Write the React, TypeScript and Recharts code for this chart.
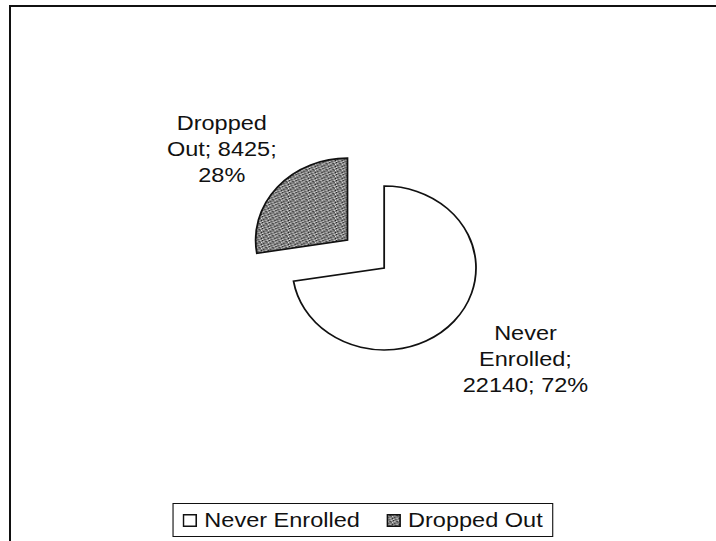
import { PieChart, Pie, Cell, Legend } from "recharts";

// values
const categories = ["Never Enrolled", "Dropped Out"];
const counts = [22140, 8425];
const sliceFills = ["#ffffff", "url(#stipple)"];

const data = categories.map((name, i) => ({ name, value: counts[i] }));

// the original scan is stretched horizontally
const STRETCH = 1.12;
const CHART_W = Math.round(716 / STRETCH);
const CHART_H = 541;
const CX = 343;
const CY = 268;
const R = 82;
const EXPLODE = 43;
const LABEL_DX = 7;
const FONT = "'Liberation Sans', Arial, sans-serif";
const RAD = Math.PI / 180;

const total = counts.reduce((a, b) => a + b, 0);
const dropStart = 90 - (360 * counts[0]) / total;
const dropMid = dropStart - (180 * counts[1]) / total;
const CX2 = CX + EXPLODE * Math.cos(dropMid * RAD);
const CY2 = CY - EXPLODE * Math.sin(dropMid * RAD);

function wrap(text: string, max: number) {
  const lines: string[] = [];
  let cur = "";
  for (const w of text.split(" ")) {
    const next = cur ? cur + " " + w : w;
    if (cur && next.length > max) {
      lines.push(cur);
      cur = w;
    } else cur = next;
  }
  if (cur) lines.push(cur);
  return lines;
}

const makeLabel = (showIndex: number) => (p: any) => {
  if (p.index !== showIndex) return null;
  const r = p.outerRadius + 68;
  const a = (p.midAngle + 3) * RAD;
  const x = p.cx + r * Math.cos(a) + LABEL_DX;
  const y = p.cy - r * Math.sin(a);
  const lines = wrap(`${p.name}; ${p.value}; ${Math.round(p.percent * 100)}%`, 10);
  return (
    <text x={x} y={y} textAnchor="middle" fontSize={21} fontFamily={FONT} fill="#111">
      {lines.map((l, i) => (
        <tspan key={i} x={x} y={y + (i - (lines.length - 1) / 2) * 26 + 7}>
          {l}
        </tspan>
      ))}
    </text>
  );
};

const renderLegend = (props: any) => {
  const names = (props.payload || []).map((it: any) => it.value);
  const items = categories.filter((c) => names.includes(c));
  return (
    <div
      style={{
        border: "1.5px solid #111",
        height: 34,
        display: "flex",
        alignItems: "center",
        justifyContent: "center",
        gap: 24,
        fontFamily: FONT,
        fontSize: 21,
        color: "#111",
        boxSizing: "border-box",
        background: "#fff",
        whiteSpace: "nowrap",
      }}
    >
      {items.map((name) => {
        const idx = categories.indexOf(name);
        return (
          <span key={name} style={{ display: "flex", alignItems: "center", gap: 6 }}>
            <svg width={13} height={13}>
              <rect x={0.75} y={0.75} width={11.5} height={11.5} fill={sliceFills[idx]} stroke="#111" strokeWidth={1.5} />
            </svg>
            {name}
          </span>
        );
      })}
    </div>
  );
};

export default function App() {
  return (
    <div style={{ position: "absolute", left: 0, top: 0, width: 716, height: 541, overflow: "hidden", background: "#fff" }}>
      <div style={{ position: "absolute", left: 9, top: 5, width: 760, height: 600, border: "2px solid #111" }} />
      <div style={{ position: "absolute", left: 0, top: 0, transform: `scaleX(${STRETCH})`, transformOrigin: "0 0" }}>
        <PieChart width={CHART_W} height={CHART_H} margin={{ top: 0, right: 0, bottom: 0, left: 0 }}>
          <defs>
            <pattern id="stipple" width={6} height={6} patternUnits="userSpaceOnUse">
              <rect width={6} height={6} fill="#858585" />
              <rect x={0} y={0} width={1} height={1} fill="#222" />
              <rect x={3} y={1} width={1} height={1} fill="#222" />
              <rect x={1} y={3} width={1} height={1} fill="#333" />
              <rect x={5} y={4} width={1} height={1} fill="#222" />
              <rect x={2} y={5} width={1} height={1} fill="#444" />
              <rect x={4} y={2} width={1} height={1} fill="#333" />
              <rect x={4} y={0} width={1} height={1} fill="#ddd" />
              <rect x={1} y={1} width={1} height={1} fill="#ccc" />
              <rect x={5} y={2} width={1} height={1} fill="#e6e6e6" />
              <rect x={3} y={4} width={1} height={1} fill="#ccc" />
              <rect x={0} y={5} width={1} height={1} fill="#ddd" />
            </pattern>
          </defs>
          <Pie
            data={data}
            dataKey="value"
            nameKey="name"
            cx={CX}
            cy={CY}
            outerRadius={R}
            startAngle={90}
            endAngle={-270}
            label={makeLabel(0)}
            labelLine={false}
            isAnimationActive={false}
          >
            {data.map((d, i) => (
              <Cell key={d.name} fill={i === 0 ? sliceFills[0] : "none"} stroke={i === 0 ? "#111" : "none"} strokeWidth={1.6} />
            ))}
          </Pie>
          <Pie
            data={data}
            dataKey="value"
            nameKey="name"
            cx={CX2}
            cy={CY2}
            outerRadius={R}
            startAngle={90}
            endAngle={-270}
            label={makeLabel(1)}
            labelLine={false}
            legendType="none"
            isAnimationActive={false}
          >
            {data.map((d, i) => (
              <Cell key={d.name} fill={i === 1 ? sliceFills[1] : "none"} stroke={i === 1 ? "#111" : "none"} strokeWidth={1.6} />
            ))}
          </Pie>
          <Legend content={renderLegend} wrapperStyle={{ left: 154, top: 503, width: 340, bottom: "auto" }} />
        </PieChart>
      </div>
    </div>
  );
}
